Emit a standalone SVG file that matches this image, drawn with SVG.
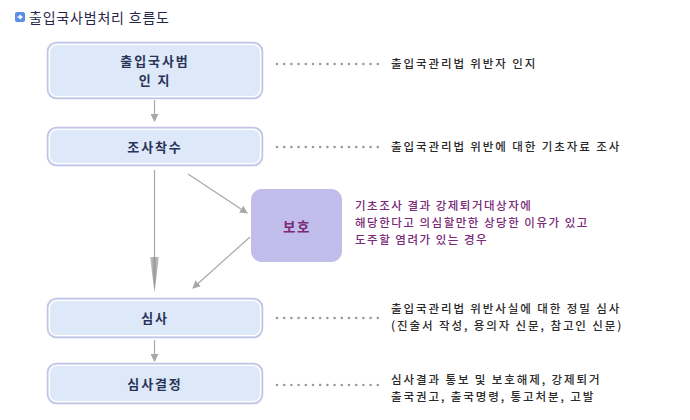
<svg xmlns="http://www.w3.org/2000/svg" width="690" height="420" viewBox="0 0 690 420">
<style>
.t{font-family:"Noto Sans CJK KR","Noto Sans",sans-serif;}
.title{font-size:14px;fill:#26264a;letter-spacing:0.8px;}
.box{fill:#dde9f8;stroke:#c2c2e6;stroke-width:1.5;}
.inner{fill:none;stroke:#ffffff;stroke-width:1.2;}
.bt{font-size:13px;font-weight:bold;fill:#2a3358;letter-spacing:1.9px;text-anchor:middle;}
.desc{font-size:11.5px;fill:#2a2a2a;letter-spacing:1.9px;font-weight:500;}
.pt{font-size:11.5px;fill:#7a2a78;letter-spacing:1.5px;font-weight:500;}
.dot{fill:none;stroke:#9a9a9a;stroke-width:2.6;stroke-linecap:round;stroke-dasharray:0 7.2;}
.ln{stroke:#a8a8a8;stroke-width:1.2;fill:none;}
</style>
<defs>
<marker id="ah" markerWidth="8" markerHeight="8" refX="7" refY="4" orient="auto" markerUnits="userSpaceOnUse">
<path d="M0,0 L8,4 L0,8 Z" fill="#a8a8a8"/>
</marker>
<linearGradient id="bigg" x1="0" y1="0" x2="1" y2="0">
<stop offset="0" stop-color="#d0d0d0"/>
<stop offset="0.5" stop-color="#9a9a9a"/>
<stop offset="1" stop-color="#d0d0d0"/>
</linearGradient>
</defs>

<g id="title">
<rect x="15" y="12" width="10" height="10" rx="2" fill="#5a8ee6"/>
<path d="M17.5,17 H21 M19.5,15 L21.8,17 L19.5,19" stroke="#fff" stroke-width="1.4" fill="none"/>
<text class="t title" x="29" y="22.5">출입국사범처리 흐름도</text>
</g>

<g id="connectors">
<line class="ln" x1="154.5" y1="100" x2="154.5" y2="121" marker-end="url(#ah)"/>
<line class="ln" x1="154.5" y1="170" x2="154.5" y2="258"/>
<path d="M150,257 L159,257 L154.5,292 Z" fill="url(#bigg)"/>
<line class="ln" x1="188" y1="174" x2="247" y2="213" marker-end="url(#ah)"/>
<line class="ln" x1="250" y1="237" x2="193" y2="288" marker-end="url(#ah)"/>
<line class="ln" x1="154.5" y1="340" x2="154.5" y2="361" marker-end="url(#ah)"/>
<line class="dot" x1="277" y1="64" x2="382" y2="64"/>
<line class="dot" x1="277" y1="147" x2="382" y2="147"/>
<line class="dot" x1="277" y1="318" x2="382" y2="318"/>
<line class="dot" x1="277" y1="385" x2="382" y2="385"/>
</g>

<g id="n1">
<rect class="box" x="47.5" y="42.5" width="215" height="56" rx="9"/>
<rect class="inner" x="49.5" y="44.5" width="211" height="52" rx="7.5"/>
<text class="t bt" x="155" y="66">출입국사범</text>
<text class="t bt" x="155" y="85">인 지</text>
</g>
<g id="n1d"><text class="t desc" x="391" y="68">출입국관리법 위반자 인지</text></g>

<g id="n2">
<rect class="box" x="47.5" y="127.5" width="215" height="38" rx="9"/>
<rect class="inner" x="49.5" y="129.5" width="211" height="34" rx="7.5"/>
<text class="t bt" x="155" y="151.5">조사착수</text>
</g>
<g id="n2d"><text class="t desc" x="391" y="151">출입국관리법 위반에 대한 기초자료 조사</text></g>

<g id="n3">
<rect x="251" y="189" width="91" height="73" rx="11" fill="#c0bdea"/>
<text class="t" x="297" y="232" font-size="13.5" font-weight="bold" fill="#7a2a78" text-anchor="middle" letter-spacing="1.5">보호</text>
<text class="t pt" x="355" y="210">기초조사 결과 강제퇴거대상자에</text>
<text class="t pt" x="355" y="227">해당한다고 의심할만한 상당한 이유가 있고</text>
<text class="t pt" x="355" y="244">도주할 염려가 있는 경우</text>
</g>

<g id="n4">
<rect class="box" x="47.5" y="298.5" width="215" height="39" rx="9"/>
<rect class="inner" x="49.5" y="300.5" width="211" height="35" rx="7.5"/>
<text class="t bt" x="155" y="323">심사</text>
</g>
<g id="n4d">
<text class="t desc" x="391" y="312.5">출입국관리법 위반사실에 대한 정밀 심사</text>
<text class="t desc" x="391" y="329.5">(진술서 작성, 용의자 신문, 참고인 신문)</text>
</g>

<g id="n5">
<rect class="box" x="47.5" y="363.5" width="215" height="40" rx="9"/>
<rect class="inner" x="49.5" y="365.5" width="211" height="36" rx="7.5"/>
<text class="t bt" x="155" y="388.5">심사결정</text>
</g>
<g id="n5d">
<text class="t desc" x="391" y="384">심사결과 통보 및 보호해제, 강제퇴거</text>
<text class="t desc" x="391" y="401">출국권고, 출국명령, 통고처분, 고발</text>
</g>
</svg>
